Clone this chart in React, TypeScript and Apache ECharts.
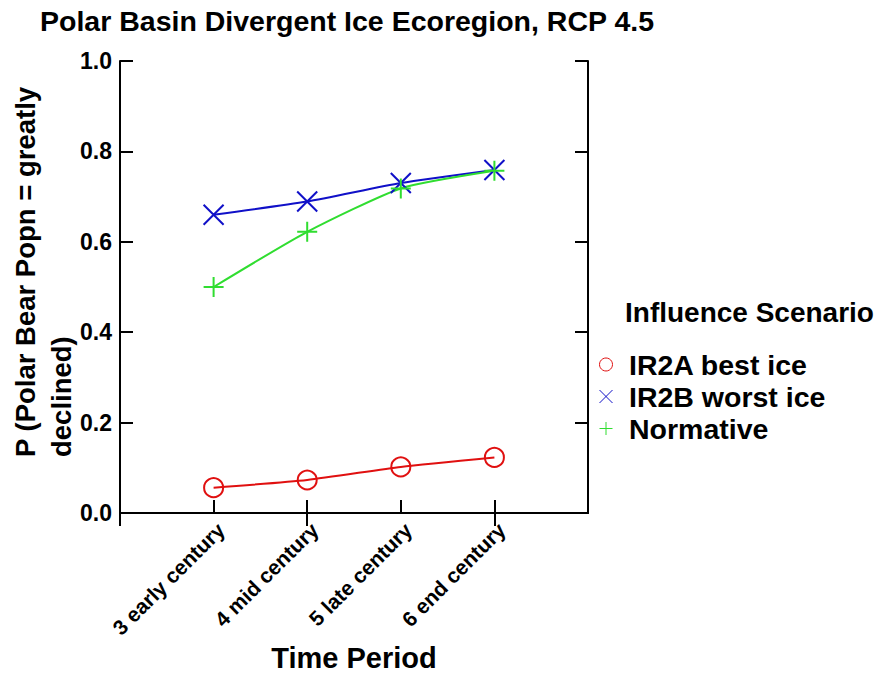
import React, { useEffect, useRef } from "react";
import * as echarts from "echarts";

const categories = ["", "3 early century", "4 mid century", "5 late century", "6 end century", ""];
const ir2a = [null, 0.056, 0.073, 0.102, 0.123, null];
const ir2b = [null, 0.66, 0.689, 0.73, 0.759, null];
const normative = [null, 0.5, 0.622, 0.718, 0.757, null];
const yTicks = { min: 0, max: 1, interval: 0.2 };
const titleText = "Polar Basin Divergent Ice Ecoregion, RCP 4.5";
const legendTitle = "Influence Scenario";
const seriesNames = ["IR2A best ice", "IR2B worst ice", "Normative"];
const xName = "Time Period";
const yName = "P (Polar Bear Popn = greatly\ndeclined)";

const RED = "#e01010";
const BLUE = "#1010c8";
const GREEN = "#30dd30";
const FONT = "Liberation Sans, Arial, sans-serif";
const X_PATH = "path://M0,0L10,10M10,0L0,10";
const PLUS_PATH = "path://M5,0L5,10M0,5L10,5";

export default function App() {
  const ref = useRef<HTMLDivElement>(null);
  useEffect(() => {
    document.body.style.margin = "0";
    document.body.style.overflow = "hidden";
    if (!ref.current) return;
    const chart = echarts.init(ref.current, null, { renderer: "svg" });
    const axisLine = { show: true, lineStyle: { color: "#000", width: 2 } };
    const axisTick = { show: true, inside: true, length: 13, lineStyle: { color: "#000", width: 2 } };
    chart.setOption({
      animation: false,
      backgroundColor: "#fff",
      textStyle: { fontFamily: FONT },
      title: [
        {
          text: titleText,
          left: 40,
          top: 6,
          padding: 0,
          textStyle: { fontFamily: FONT, fontWeight: "bold", fontSize: 28.5, color: "#000" },
        },
        {
          text: legendTitle,
          left: 625,
          top: 298,
          padding: 0,
          textStyle: { fontFamily: FONT, fontWeight: "bold", fontSize: 28, color: "#000" },
        },
      ],
      legend: {
        orient: "vertical",
        left: 599,
        top: 350,
        padding: 0,
        itemWidth: 36,
        itemHeight: 13,
        itemGap: 3,
        symbolKeepAspect: true,
        textStyle: { fontFamily: FONT, fontWeight: "bold", fontSize: 28.5, color: "#000" },
        data: [
          { name: seriesNames[0], icon: "circle", itemStyle: { color: "#fff", borderColor: RED, borderWidth: 1 } },
          { name: seriesNames[1], icon: X_PATH, itemStyle: { color: BLUE, borderColor: BLUE, borderWidth: 1 } },
          { name: seriesNames[2], icon: PLUS_PATH, itemStyle: { color: GREEN, borderColor: GREEN, borderWidth: 1 } },
        ],
      },
      graphic: [
        {
          type: "text",
          x: 7,
          y: 457,
          rotation: Math.PI / 2,
          style: {
            text: yName,
            align: "left",
            verticalAlign: "top",
            font: `bold 27.5px ${FONT}`,
            lineHeight: 36,
            fill: "#000",
          },
        },
      ],
      grid: { left: 120, top: 61, right: 290, bottom: 161, containLabel: false, outerBoundsMode: "none" },
      xAxis: [
        {
          type: "category",
          data: categories,
          boundaryGap: false,
          position: "bottom",
          axisLine,
          axisTick: { ...axisTick, alignWithLabel: true },
          splitLine: { show: false },
          axisLabel: {
            interval: 0,
            rotate: 45,
            margin: 6,
            verticalAlign: "top",
            fontFamily: FONT,
            fontWeight: "bold",
            fontSize: 21,
            color: "#000",
          },
          name: xName,
          nameLocation: "middle",
          nameGap: 130,
          nameMoveOverlap: false,
          nameTextStyle: { fontFamily: FONT, fontWeight: "bold", fontSize: 29, color: "#000" },
        },
        {
          type: "category",
          data: categories,
          boundaryGap: false,
          position: "top",
          axisLine,
          axisTick,
          axisLabel: { show: false },
          splitLine: { show: false },
        },
      ],
      yAxis: [
        {
          type: "value",
          min: yTicks.min,
          max: yTicks.max,
          interval: yTicks.interval,
          position: "left",
          axisLine,
          axisTick,
          splitLine: { show: false },
          axisLabel: {
            margin: 8,
            formatter: (v: number) => v.toFixed(1),
            fontFamily: FONT,
            fontWeight: "bold",
            fontSize: 23,
            color: "#000",
          },
        },
        {
          type: "value",
          min: yTicks.min,
          max: yTicks.max,
          interval: yTicks.interval,
          position: "right",
          axisLine,
          axisTick,
          splitLine: { show: false },
          axisLabel: { show: false },
        },
      ],
      series: [
        {
          name: seriesNames[0],
          type: "line",
          data: ir2a,
          smooth: 0.2,
          symbol: "circle",
          symbolSize: 19,
          lineStyle: { color: RED, width: 2 },
          itemStyle: { color: "rgba(0,0,0,0)", borderColor: RED, borderWidth: 2 },
        },
        {
          name: seriesNames[1],
          type: "line",
          data: ir2b,
          smooth: 0.2,
          symbol: X_PATH,
          symbolSize: 20,
          lineStyle: { color: BLUE, width: 2 },
          itemStyle: { color: BLUE, borderColor: BLUE, borderWidth: 2 },
        },
        {
          name: seriesNames[2],
          type: "line",
          data: normative,
          smooth: 0.2,
          symbol: PLUS_PATH,
          symbolSize: 20,
          lineStyle: { color: GREEN, width: 2 },
          itemStyle: { color: GREEN, borderColor: GREEN, borderWidth: 2 },
        },
      ],
    });
    return () => chart.dispose();
  }, []);
  return <div ref={ref} style={{ width: 878, height: 674 }} />;
}
